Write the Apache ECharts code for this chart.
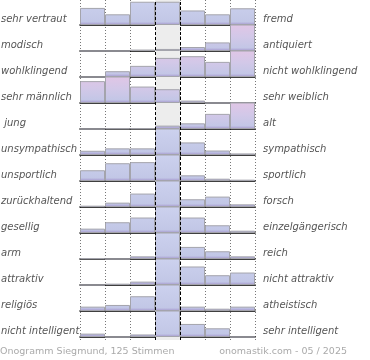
<!DOCTYPE html>
<html><head><meta charset="utf-8">
<script src="https://cdn.jsdelivr.net/npm/echarts@6/dist/echarts.min.js"></script>
<style>html,body{margin:0;padding:0;background:#fff}#c{width:370px;height:360px}</style>
</head><body><div id="c"></div><script>
// ---- data ----
const leftLabels = ['sehr vertraut','modisch','wohlklingend','sehr männlich',' jung','unsympathisch','unsportlich','zurückhaltend','gesellig','arm','attraktiv','religiös','nicht intelligent'];
const rightLabels = ['fremd','antiquiert','nicht wohlklingend','sehr weiblich','alt','sympathisch','sportlich','forsch','einzelgängerisch','reich','nicht attraktiv','atheistisch','sehr intelligent'];
const steps = ['1','2','3','4','5','6','7'];
// share of votes (%) per step, one array per row
const vertraut    = [14.7, 9.2, 20, 20, 12.5, 9.2, 14.4];
const modisch     = [0, 0, 1.2, 1.7, 3.3, 7.1, 86.7];
const wohlklingend= [0, 4.8, 9.2, 15.8, 17.2, 12.5, 40.5];
const maennlich   = [18.1, 54.9, 13.6, 11.4, 2, 0, 0];
const jung        = [0, 0.5, 0.5, 2.8, 4.7, 12.5, 79];
const unsympath   = [3.5, 5.5, 5.5, 70, 10.4, 3.7, 1.3];
const unsportlich = [8.9, 14.7, 15.6, 53.1, 4.7, 1.9, 1.1];
const zurueck     = [1.1, 3.6, 11.1, 67, 6.4, 8.6, 2.2];
const gesellig    = [3.6, 8.9, 12.8, 53.6, 12.8, 6.4, 1.9];
const arm         = [0.6, 0, 2.2, 78.6, 10, 6.4, 2.2];
const attraktiv   = [0, 1.1, 2.8, 62.4, 15.3, 8.1, 10.3];
const religioes   = [3.6, 5, 12.2, 70, 3.6, 1.9, 3.6];
const nichtintel  = [2.8, 0, 2.1, 77, 10.8, 7.2, 0];
const rows = [vertraut, modisch, wohlklingend, maennlich, jung, unsympath, unsportlich, zurueck, gesellig, arm, attraktiv, religioes, nichtintel];
const footerLeft = 'Onogramm Siegmund, 125 Stimmen';
const footerRight = 'onomastik.com - 05 / 2025';

// ---- layout / style ----
const PITCH = 26, TOP0 = -1, LEFT = 80, WIDTH = 175, YMAX = 21.5;
const n = steps.length, mid = Math.floor(n / 2);
const grids = [], xAxes = [], yAxes = [], series = [], graphics = [];
const LABEL_FONT = 'italic 10px "DejaVu Sans"';

rows.forEach((vals, i) => {
  const top = TOP0 + PITCH * i, bottom = top + PITCH;
  const maxV = Math.max(...vals);
  const skewed = vals[mid] < maxV;
  const stops = skewed
    ? [{offset:0,color:'#e0c6e6'},{offset:0.45,color:'#d2c8e8'},{offset:0.88,color:'#c3c6e6'},{offset:1,color:'#a293cb'}]
    : [{offset:0,color:'#ccd1ee'},{offset:0.88,color:'#c2c7e6'},{offset:1,color:'#a293cb'}];
  const grad = new echarts.graphic.LinearGradient(0, top, 0, bottom, stops, true);
  grids.push({left: LEFT, top: top, width: WIDTH, height: PITCH});
  xAxes.push({type:'category', gridIndex:i, data:steps, axisLine:{show:true, lineStyle:{color:'#000', width:1.5}},
    axisTick:{show:false}, axisLabel:{show:false}, splitLine:{show:false}});
  yAxes.push({type:'value', gridIndex:i, min:0, max:YMAX, show:false});
  series.push({type:'bar', xAxisIndex:i, yAxisIndex:i, data:vals, barCategoryGap:0, barGap:0, clip:true, silent:true,
    itemStyle:{color:grad, borderColor:'#a4a4ac', borderWidth:1}});
  const yc = bottom - 5.5;
  graphics.push({type:'text', x:1, y:yc, silent:true, style:{text:leftLabels[i], font:LABEL_FONT, fill:'#555',
    textAlign:'left', textVerticalAlign:'middle', align:'left', verticalAlign:'middle'}});
  graphics.push({type:'text', x:263, y:yc, silent:true, style:{text:rightLabels[i], font:LABEL_FONT, fill:'#555',
    textAlign:'left', textVerticalAlign:'middle', align:'left', verticalAlign:'middle'}});
});

// overlay grid for vertical guide lines and the neutral-column background
const og = rows.length;
grids.push({left: LEFT, top: 0, width: WIDTH, height: 340});
xAxes.push({type:'value', gridIndex:og, min:0, max:n, interval:1, axisLine:{show:false}, axisTick:{show:false}, axisLabel:{show:false},
  splitLine:{show:true, lineStyle:{color:'#777', type:[1,2], width:1}}});
yAxes.push({type:'value', gridIndex:og, min:0, max:1, show:false});
series.push({type:'line', xAxisIndex:og, yAxisIndex:og, data:[], silent:true,
  markArea:{silent:true, itemStyle:{color:'#ededed'}, data:[[{xAxis:mid},{xAxis:mid+1}]]},
  markLine:{silent:true, symbol:'none', label:{show:false}, lineStyle:{color:'#000', type:[3,2], width:1},
    data:[{xAxis:mid},{xAxis:mid+1}]}});

graphics.push({type:'text', x:0, y:352, silent:true, style:{text:footerLeft, font:'9.5px "DejaVu Sans"', fill:'#aaa',
  textAlign:'left', textVerticalAlign:'middle', align:'left', verticalAlign:'middle'}});
graphics.push({type:'text', x:347, y:352, silent:true, style:{text:footerRight, font:'9.5px "DejaVu Sans"', fill:'#aaa',
  textAlign:'right', textVerticalAlign:'middle', align:'right', verticalAlign:'middle'}});

const chart = echarts.init(document.getElementById('c'), null, {renderer:'canvas'});
chart.setOption({animation:false, backgroundColor:'#fff', grid:grids, xAxis:xAxes, yAxis:yAxes, series:series, graphic:{elements:graphics}});
</script></body></html>
